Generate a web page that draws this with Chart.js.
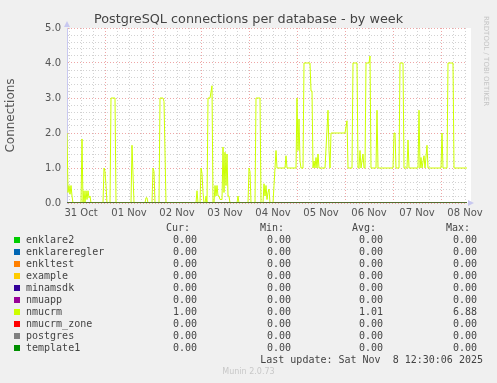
<!DOCTYPE html>
<html>
<head>
<meta charset="utf-8">
<script src="https://cdn.jsdelivr.net/npm/chart.js@4"></script>
<style>
  body { margin: 0; background: #f0f0f0; }
  #wrap { position: relative; width: 497px; height: 383px; overflow: hidden; }
  #wrap canvas { position: absolute; left: 0; top: 0; }
  .t { position: absolute; white-space: pre; }
  #title { left: 0; width: 497px; top: 11px; text-align: center; font: 12.8px "DejaVu Sans"; color: #444; }
  #rrd { left: 482px; top: 16px; font: 7px "DejaVu Sans"; color: #c4c4c4; writing-mode: vertical-rl; }
  #munin { left: 0; width: 497px; top: 367px; text-align: center; font: 8px "DejaVu Sans"; color: #c8c8c8; }
  .m { font: 10px "DejaVu Sans Mono"; color: #444; line-height: 12px; }
  .sq { position: absolute; width: 6px; height: 6px; }
</style>
</head>
<body>
<div id="wrap">
  <canvas id="myChart" width="497" height="383"></canvas>
  <div class="t" id="title">PostgreSQL connections per database - by week</div>
  <div class="t" id="rrd">RRDTOOL / TOBI OETIKER</div>
  <div class="t" id="munin">Munin 2.0.73</div>
</div>
<script>
// hours since 31 Oct 00:00
var hours = [5.0,5.5,6.0,6.5,7.0,7.5,8.0,12.0,12.5,13.0,13.5,14.0,14.5,15.0,15.5,16.0,16.5,17.0,
  23.0,23.5,24.0,24.5,25.0,26.5,27.0,29.0,29.5,37.0,37.5,38.5,44.0,44.5,45.0,45.5,47.5,48.0,48.5,49.0,
  51.0,51.5,53.0,53.5,54.5,69.5,70.0,70.5,71.5,72.0,72.5,73.0,73.5,74.0,74.5,75.0,75.5,76.5,77.5,78.0,
  78.5,79.0,79.5,80.0,80.5,81.0,81.5,82.5,83.0,83.5,84.0,84.5,85.0,85.5,86.0,86.5,90.0,90.5,91.0,
  95.5,96.0,96.5,97.0,99.0,99.5,101.5,102.0,103.0,103.5,104.0,104.5,105.0,105.5,106.0,106.5,
  108.0,108.5,109.0,109.5,110.0,114.0,114.5,115.0,119.5,120.0,120.5,121.0,121.5,122.0,123.0,123.5,
  126.5,127.0,127.5,128.0,128.5,129.0,129.5,130.0,130.5,131.0,134.0,135.5,136.0,136.5,137.0,144.0,
  145.0,145.5,147.5,148.0,150.0,150.5,151.0,151.5,152.0,152.5,153.0,153.5,154.0,154.5,156.0,156.5,
  157.0,159.5,160.0,160.5,168.0,168.5,169.0,169.5,171.0,171.5,173.0,173.5,175.0,175.5,176.0,180.5,
  181.0,181.5,182.0,182.5,183.5,184.0,185.0,185.5,192.0,192.5,193.0,195.0,195.5,198.0,198.5,205.0];
var nmucrm = [2.0,0.3,0.5,0.25,0.5,0.2,0,0,1.83,0,0.35,0,0.35,0.1,0.35,0.15,0.2,0,
  0,1.0,0.9,0.5,0,0,3.0,3.0,0,0,1.65,0,0,0.15,0.15,0,0,1.0,0.9,0,
  0,3.0,3.0,2.9,0,0,0.35,0,0,1.0,0.85,0.3,0,0,0.2,0,3.0,3.0,3.35,0,
  0,0.5,0.2,0.5,0.2,0.2,0.1,0.1,1.6,0.3,1.45,0.5,1.4,0.2,0.2,0,0,0.2,0,
  0,1.0,0.9,0,0,3.0,3.0,0,0,0.55,0.2,0.5,0.1,0.3,0.4,0,
  0,0.5,1.0,1.5,1.0,1.0,1.35,1.0,1.0,3.0,1.5,2.4,1.2,1.0,1.0,4.0,
  4.0,3.2,3.2,1.0,1.2,1.0,1.3,1.0,1.4,1.0,1.0,2.65,1.5,1.0,2.0,2.0,
  2.35,1.0,1.0,4.0,4.0,1.0,1.0,1.5,1.0,1.2,1.4,1.0,1.0,4.0,4.0,4.2,
  1.0,1.0,2.65,1.0,1.0,2.0,2.0,1.0,1.0,4.0,4.0,1.0,1.0,1.8,1.0,1.0,
  2.65,1.0,1.3,1.0,1.35,1.0,1.65,1.0,1.0,2.0,1.0,1.0,4.0,4.0,1.0,1.0];
var zeroHours = [5, 205];
var zeroValues = [0, 0];

var dayLabels = ["31 Oct", "01 Nov", "02 Nov", "03 Nov", "04 Nov", "05 Nov", "06 Nov", "07 Nov", "08 Nov"];

var names = ["enklare2", "enklareregler", "enkltest", "example", "minamsdk", "nmuapp", "nmucrm", "nmucrm_zone", "postgres", "template1"];
var colors = ["#00cc00", "#0066b3", "#ff8000", "#ffcc00", "#330099", "#990099", "#ccff00", "#ff0000", "#808080", "#008f00"];
var curVals = ["0.00", "0.00", "0.00", "0.00", "0.00", "0.00", "1.00", "0.00", "0.00", "0.00"];
var minVals = ["0.00", "0.00", "0.00", "0.00", "0.00", "0.00", "0.00", "0.00", "0.00", "0.00"];
var avgVals = ["0.00", "0.00", "0.00", "0.00", "0.00", "0.00", "1.01", "0.00", "0.00", "0.00"];
var maxVals = ["0.00", "0.00", "0.00", "0.00", "0.00", "0.00", "6.88", "0.00", "0.00", "0.00"];

function pts(xs, ys) {
  return xs.map(function (x, i) { return {x: x, y: ys[i]}; });
}

var datasets = names.map(function (n, i) {
  return {
    label: n,
    data: n === "nmucrm" ? pts(hours, nmucrm) : pts(zeroHours, zeroValues),
    borderColor: colors[i],
    borderWidth: 1,
    pointRadius: 0,
    tension: 0,
    order: names.length - i
  };
});

var gridRed = "rgba(235,150,150,0.85)";
var gridGrey = "rgba(205,205,205,0.9)";

var plotBg = {
  id: "plotBg",
  beforeDraw: function (chart) {
    var a = chart.chartArea, c = chart.ctx;
    c.save();
    c.fillStyle = "#ffffff";
    c.fillRect(a.left, a.top, a.right - a.left + 4, a.bottom - a.top);
    c.restore();
  },
  afterDraw: function (chart) {
    var a = chart.chartArea, c = chart.ctx;
    c.save();
    c.fillStyle = "#c8c8f0";
    c.beginPath();
    c.moveTo(a.left - 3, a.top - 1); c.lineTo(a.left + 3, a.top - 1); c.lineTo(a.left, a.top - 7);
    c.fill();
    c.beginPath();
    c.moveTo(a.right + 1, a.bottom - 3); c.lineTo(a.right + 1, a.bottom + 3); c.lineTo(a.right + 7, a.bottom);
    c.fill();
    c.restore();
  }
};

new Chart("myChart", {
  type: "line",
  data: { datasets: datasets },
  plugins: [plotBg],
  options: {
    responsive: false,
    animation: false,
    layout: { padding: { left: 0, right: 30, top: 28, bottom: 160 } },
    plugins: { legend: { display: false }, tooltip: { enabled: false } },
    scales: {
      x: {
        type: "linear",
        min: 5,
        max: 205,
        afterBuildTicks: function (s) {
          var t = [];
          for (var h = 6; h <= 204; h += 6) t.push({value: h});
          s.ticks = t;
        },
        afterFit: function (s) { s.height = 20; },
        ticks: {
          autoSkip: false,
          maxRotation: 0,
          padding: 4,
          color: "#555",
          font: { family: "DejaVu Sans", size: 10 },
          callback: function (v) {
            return v % 24 === 12 ? dayLabels[(v - 12) / 24] : "";
          }
        },
        grid: {
          drawTicks: false,
          color: function (c) { return c.tick && c.tick.value % 24 === 0 ? gridRed : gridGrey; }
        },
        border: { display: false, dash: [1, 2] }
      },
      y: {
        min: 0,
        max: 5,
        afterFit: function (s) { s.width = 67; },
        ticks: {
          stepSize: 0.2,
          autoSkip: false,
          padding: 6,
          color: "#555",
          font: { family: "DejaVu Sans", size: 10 },
          callback: function (v) {
            return Math.abs(v - Math.round(v)) < 1e-6 ? Math.round(v).toFixed(1) : "";
          }
        },
        grid: {
          drawTicks: false,
          color: function (c) {
            var v = c.tick ? c.tick.value : 0;
            return Math.abs(v - Math.round(v)) < 1e-6 ? gridRed : gridGrey;
          }
        },
        border: { display: true, color: "#c8c8f0", width: 1, dash: [1, 2] },
        title: {
          display: true,
          text: "Connections",
          color: "#555",
          padding: { top: 4, bottom: 0 },
          font: { family: "DejaVu Sans", size: 12 }
        }
      }
    }
  }
});

// legend table below the plot
var wrap = document.getElementById("wrap");
function addText(txt, left, right, top) {
  var d = document.createElement("div");
  d.className = "t m";
  d.textContent = txt;
  d.style.top = top + "px";
  if (left !== null) d.style.left = left + "px";
  if (right !== null) { d.style.right = (497 - right) + "px"; d.style.textAlign = "right"; }
  wrap.appendChild(d);
}
var colRight = [197, 291, 383, 477];
var heads = ["Cur:", "Min:", "Avg:", "Max:"];
heads.forEach(function (h, j) { addText(h, null, colRight[j] - 7, 222); });
names.forEach(function (n, i) {
  var top = 234 + i * 12;
  var sq = document.createElement("div");
  sq.className = "sq";
  sq.style.left = "14px";
  sq.style.top = (top + 3) + "px";
  sq.style.background = colors[i];
  wrap.appendChild(sq);
  addText(n, 26, null, top);
  [curVals, minVals, avgVals, maxVals].forEach(function (arr, j) {
    addText(arr[i], null, colRight[j], top);
  });
});
addText("Last update: Sat Nov  8 12:30:06 2025", null, 483, 354);
</script>
</body>
</html>
